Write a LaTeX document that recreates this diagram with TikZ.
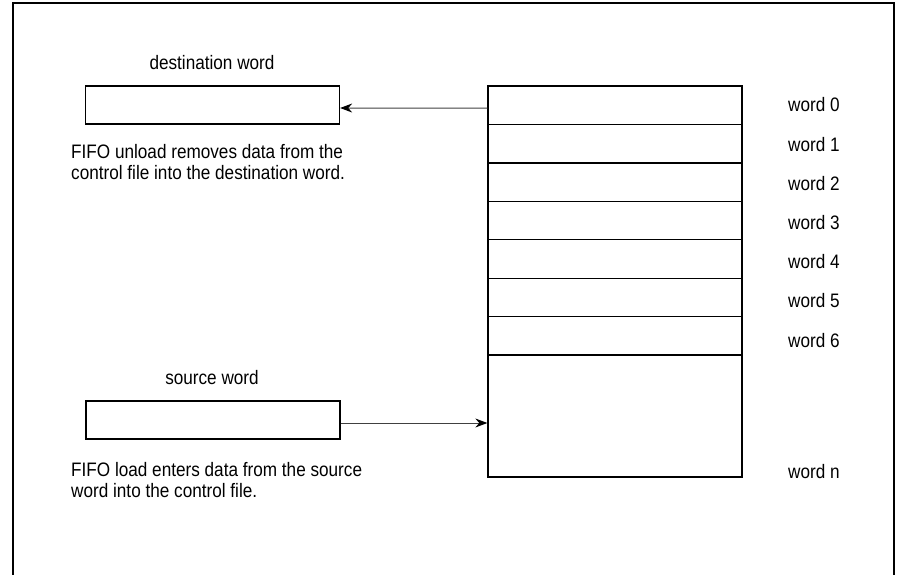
\documentclass[tikz,border=0pt]{standalone}
\usepackage{fontspec}
\setmainfont[FakeStretch=0.88]{Liberation Sans}
\usetikzlibrary{arrows.meta}
\begin{document}
\begin{tikzpicture}[x=1pt,y=-1pt,
  every node/.style={font=\fontsize{19.5}{21.5}\selectfont, inner sep=0pt},
  wordbox/.style={draw, line width=1.3pt, minimum width=254pt, minimum height=38pt},
  cell/.style={draw, line width=1.3pt, minimum width=254pt, minimum height=38.43pt},
  lastcell/.style={draw, line width=1.3pt, minimum width=254pt, minimum height=122pt},
  caption/.style={anchor=west, align=left},
  wordlabel/.style={anchor=west},
  arr/.style={line width=1pt, draw=black!75, -{Stealth[length=12pt,width=9pt,black]}}]
\useasboundingbox (0,0) rectangle (897,575);
% outer frame, open at the bottom
\draw[line width=2pt] (12.5,580) -- (12.5,3.5) -- (894,3.5) -- (894,580);

% destination side
\node[wordbox] (dest) at (212.5,105) {};
\node (destlbl) at (212,63) {destination word};
\node[caption] (unloadtxt) at (71,162) {FIFO unload removes data from the\\control file into the destination word.};

% source side
\node[wordbox] (src) at (213,420) {};
\node (srclbl) at (212,378) {source word};
\node[caption] (loadtxt) at (71,480) {FIFO load enters data from the source\\word into the control file.};

% control file stack
\foreach \i in {0,...,6} {
  \node[cell] (c\i) at (615,{86+38.43*\i+19.215}) {};
  \node[wordlabel] (w\i) at (788,{105+39.2*\i}) {word \i};
}
\node[lastcell] (cn) at (615,416) {};
\node[wordlabel] (wn) at (788,472) {word n};

% data flow
\draw[arr] ([yshift=-3pt]c0.west) -- ([yshift=-3pt]dest.east);
\draw[arr] ([yshift=-3pt]src.east) -- ([yshift=-3pt]src.east -| cn.west);
\end{tikzpicture}
\end{document}
